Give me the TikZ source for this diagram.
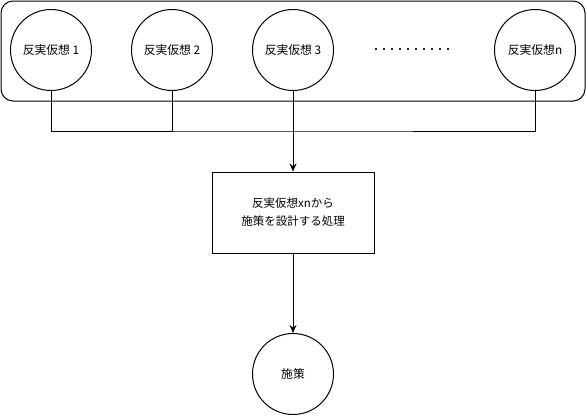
\documentclass[tikz,border=0pt]{standalone}
\usepackage{fontspec}
\setmainfont{Noto Sans CJK JP}
\usetikzlibrary{arrows.meta, positioning}

\begin{document}
\begin{tikzpicture}[
      x=1pt, y=-1pt, line width=1pt,
      hyp/.style={draw, circle, minimum size=81pt, inner sep=0pt,
                  font=\fontsize{11.8}{13}\selectfont},
      proc/.style={draw, minimum width=162pt, minimum height=81pt,
                   align=center, font=\fontsize{11.5}{18}\selectfont},
      arr/.style={-{Stealth[length=8pt, width=7pt]}}]

    \useasboundingbox (0,0) rectangle (586,415);

    % Group frame round the hypotheses
    \draw[rounded corners=12pt] (1,1) rectangle (585,101);

    % Counterfactual hypotheses (top row)
    \foreach \i/\x in {1/51, 2/172, 3/293} {
        \node[hyp] (h\i) at (\x, 50) {反実仮想 \i};
    }
    \node[hyp] (hn) at (535, 50) {反実仮想n};
    \node[font=\fontsize{8}{10}\bfseries] (dots) at (412, 50) {・・・・・・・・・・};

    % Process and result
    \node[proc] (proc) at (293, 212.5) {反実仮想xnから\\施策を設計する処理};
    \node[hyp] (res) at (293, 374) {施策};

    % Bus joining the hypotheses
    \coordinate (bus) at (293, 131);
    \draw (h1.south) |- (bus) -| (hn.south);
    \draw (h2.south) -- (h2.south |- bus);
    \draw[arr] (h3.south) -- (proc.north);
    \draw[arr] (proc.south) -- (res.north);

\end{tikzpicture}
\end{document}
